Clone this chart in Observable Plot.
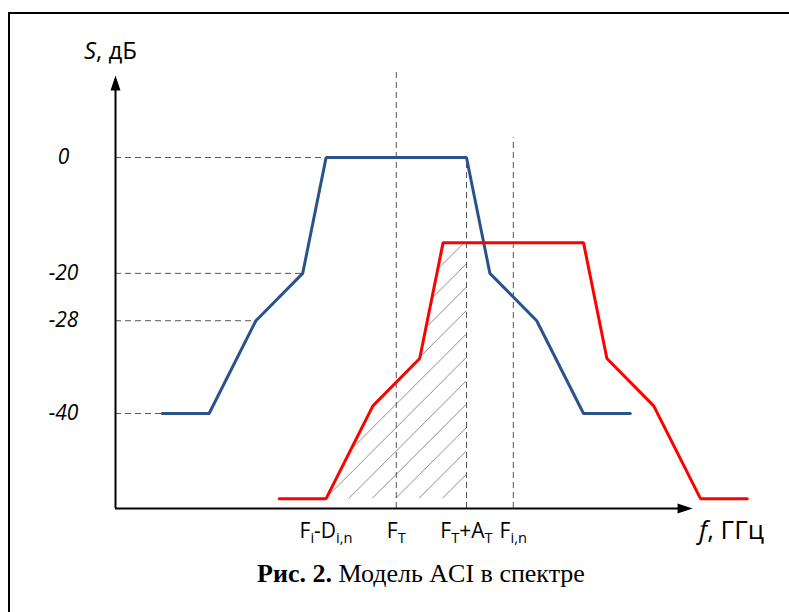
<!DOCTYPE html>
<html><head><meta charset="utf-8">
<script src="https://cdn.jsdelivr.net/npm/d3@7"></script>
<script src="https://cdn.jsdelivr.net/npm/@observablehq/plot@0.6"></script>
<style>
html,body{margin:0;padding:0;background:#fff;overflow:hidden}
#wrap{position:relative;width:789px;height:612px;overflow:hidden;background:#fff}
#frame{position:absolute;left:8px;top:12px;width:900px;height:800px;border:2px solid #000;box-sizing:border-box}
#chart{position:absolute;left:0;top:0}
.lab{position:absolute;font-family:"Open Sans",sans-serif;white-space:nowrap;line-height:1;color:#000}
#ylab{left:84px;top:38px;font-size:24px}
#xlab{left:699px;top:516px;font-size:26px}
#cap{position:absolute;left:53px;width:736px;top:561px;text-align:center;font-family:"Liberation Serif","Times New Roman",serif;font-size:26px;line-height:1;color:#000}
</style></head><body>
<div id="wrap"><div id="frame"></div><div id="chart"></div>
<div class="lab" id="ylab"><i>S</i>, дБ</div>
<div class="lab" id="xlab"><i>f</i>, ГГц</div>
<div id="cap"><b>Рис. 2.</b> Модель ACI в спектре</div>
</div>
<script>
// ---- data (frequency in grid units, level S in dB as drawn) ----
const blueX = [2, 4, 6, 8, 9, 15, 16, 18, 20, 22];
const blueS = [-40, -40, -25.5, -18.1, 0, 0, -18.1, -25.5, -40, -40];
const redX  = [7, 9, 11, 13, 14, 20, 21, 23, 25, 27];
const redS  = [-53.3, -53.3, -38.8, -31.4, -13.3, -13.3, -31.4, -38.8, -53.3, -53.3];

const yTickVals   = [0, -18.1, -25.5, -40];
const yTickLabels = ["0", "-20", "-28", "-40"];
const guideLeftEnds = [9, 8, 6, 2];           // blue x where each level guide ends

const xTickVals   = [9, 12, 15, 17];
const xTickLabels = ["F_{i}-D_{i,n}", "F_{T}", "F_{T}+A_{T}", "F_{i,n}"];
const vGuideTops  = [13.3, 0, 3.1];           // top of vertical dashed lines at xTickVals[1..3]

const hatchFrom = 9, hatchTo = 15;            // shaded ACI band
const xDomain = [0, 28], yDomain = [-54.84, 13.6];
const xAxisEnd = 24.66, yAxisEnd = 12.8;

// ---- build tables ----
const blue = blueX.map((x, i) => ({x, s: blueS[i]}));
const red  = redX.map((x, i) => ({x, s: redS[i]}));
const redBase = d3.min(redS);
const interp = (pts, x) => {
  for (let i = 1; i < pts.length; i++) {
    const a = pts[i-1], b = pts[i];
    if (x >= a.x && x <= b.x) return a.s + (b.s - a.s) * (x - a.x) / (b.x - a.x);
  }
};
const hatch = red.filter(d => d.x >= hatchFrom && d.x < hatchTo).concat([{x: hatchTo, s: interp(red, hatchTo)}]);
const hGuides = yTickVals.map((s, i) => ({s, x2: guideLeftEnds[i]}));
const vGuides = xTickVals.slice(1).map((x, i) => ({x, top: vGuideTops[i]}));
const fmtY = d => yTickLabels[yTickVals.indexOf(d)];
const fmtX = d => xTickLabels[xTickVals.indexOf(d)];

const dash = {stroke: "#555", strokeWidth: 1, strokeDasharray: "6,4"};

const plot = Plot.plot({
  width: 789, height: 560,
  marginLeft: 115, marginRight: 789 - 115 - 28 * 23.4, marginTop: 70, marginBottom: 52,
  x: {domain: xDomain},
  y: {domain: yDomain},
  style: {fontFamily: "Open Sans, sans-serif", background: "transparent", overflow: "visible", color: "#000"},
  marks: [
    Plot.areaY(hatch, {x: "x", y1: redBase, y2: "s", fill: "url(#hatch)", curve: "linear"}),
    Plot.ruleY(hGuides, {y: "s", x1: 0, x2: "x2", ...dash}),
    Plot.ruleX(vGuides, {x: "x", y1: yDomain[0], y2: "top", ...dash}),
    Plot.line(blue, {x: "x", y: "s", stroke: "#2a5389", strokeWidth: 3, strokeLinejoin: "miter"}),
    Plot.line(red, {x: "x", y: "s", stroke: "#ff0000", strokeWidth: 3, strokeLinejoin: "miter"}),
    Plot.ruleX([0], {y1: yDomain[0], y2: yAxisEnd - 1.5, stroke: "#000", strokeWidth: 2}),
    Plot.ruleY([yDomain[0]], {x1: 0, x2: xAxisEnd - 0.45, stroke: "#000", strokeWidth: 2}),
    Plot.vector([0], {x: 0, y: yAxisEnd, length: 15, r: 5, rotate: 0, shape: "spike", anchor: "end", fill: "#000", stroke: "none"}),
    Plot.vector([0], {x: xAxisEnd, y: yDomain[0], length: 15, r: 5, rotate: 90, shape: "spike", anchor: "end", fill: "#000", stroke: "none"}),
    Plot.axisY({ticks: yTickVals, tickFormat: fmtY, tickSize: 0, tickPadding: 52, textAnchor: "middle", fontSize: 21, fontStyle: "italic", label: null}),
    Plot.axisX({ticks: xTickVals, tickFormat: fmtX, tickSize: 0, tickPadding: 15, fontSize: 21, label: null})
  ]
});

// hatch pattern aligned to the band's lower-left corner
const sx = plot.scale("x"), sy = plot.scale("y");
const w = sx.apply(1) - sx.apply(0);
const svg = d3.select(plot);
const pat = svg.insert("defs", ":first-child").append("pattern")
  .attr("id", "hatch").attr("patternUnits", "userSpaceOnUse")
  .attr("width", w).attr("height", w)
  .attr("x", sx.apply(hatchFrom)).attr("y", sy.apply(redBase));
for (const k of [0, 1, 2]) {
  pat.append("line").attr("x1", -2).attr("y1", k * w + 2).attr("x2", k * w + 2).attr("y2", -2)
    .attr("stroke", "#7a7a7a").attr("stroke-width", 0.9);
}
// subscripts in x tick labels
svg.selectAll('g[aria-label="x-axis tick label"] text').each(function () {
  const t = d3.select(this);
  const src = t.text();
  t.text(null);
  const re = /_\{([^}]*)\}|([^_]+)/g;
  let m, lastSub = false;
  while ((m = re.exec(src))) {
    if (m[1] !== undefined) {
      t.append("tspan").attr("font-size", "0.7em").attr("dy", lastSub ? 0 : 5).text(m[1]);
      lastSub = true;
    } else {
      t.append("tspan").attr("dy", lastSub ? -5 : 0).text(m[2]);
      lastSub = false;
    }
  }
});
document.getElementById("chart").appendChild(plot);
</script>
</body></html>
